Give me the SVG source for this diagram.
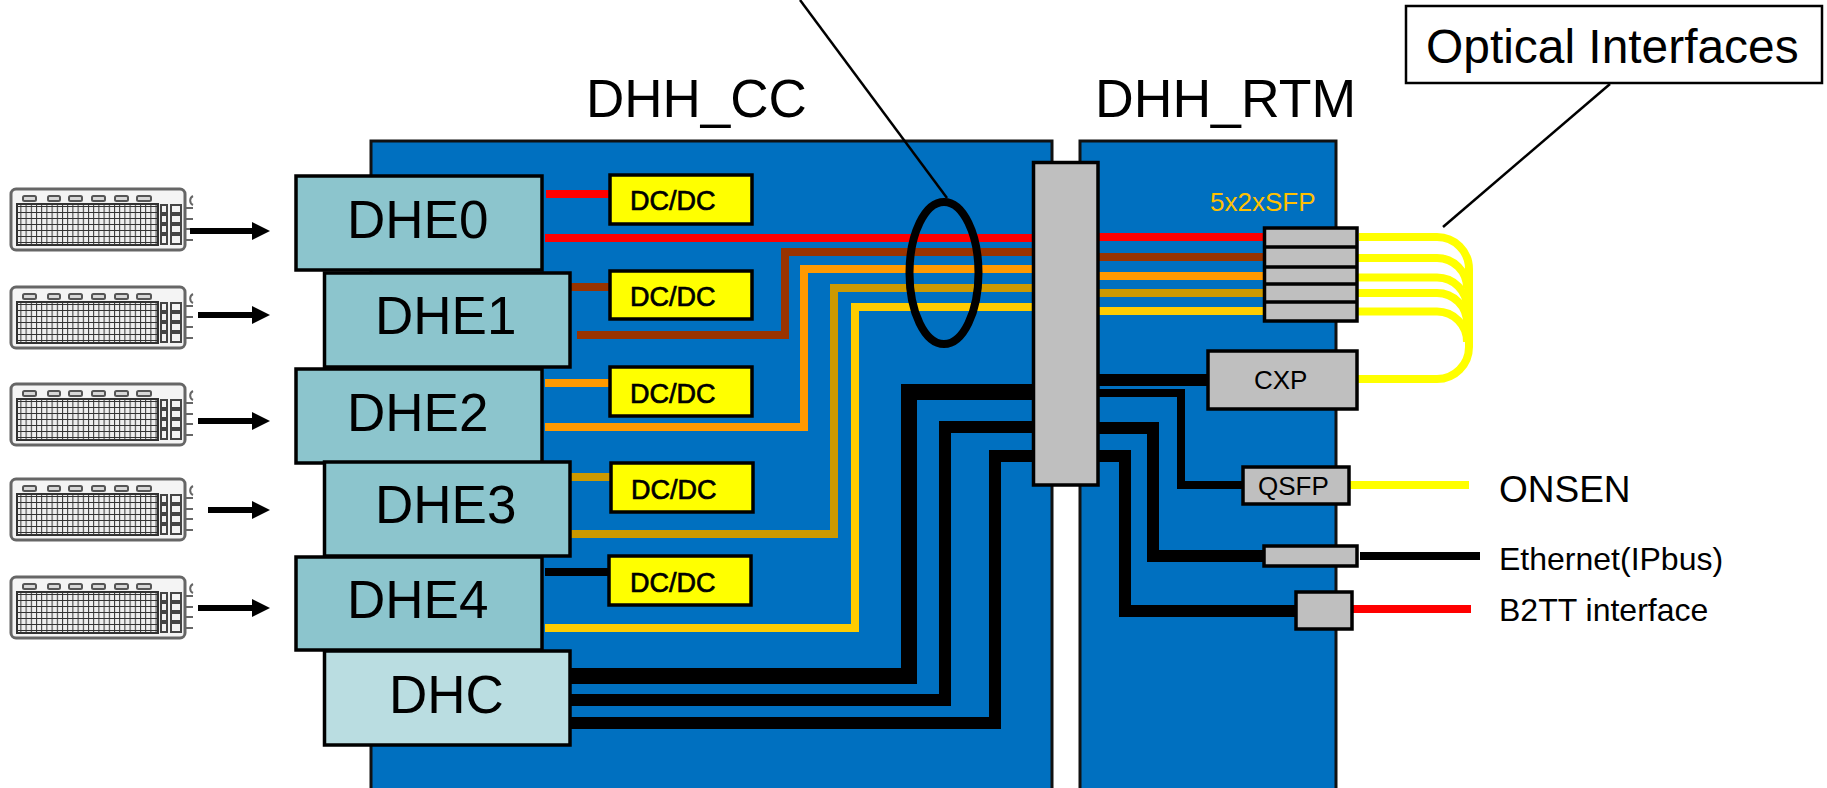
<svg xmlns="http://www.w3.org/2000/svg" width="1827" height="788" viewBox="0 0 1827 788">
<style>
text{font-family:"Liberation Sans",Arial,sans-serif;fill:#000}
.panel{fill:#0070C0;stroke:#111;stroke-width:3}
.dhe{fill:#8CC5CD;stroke:#000;stroke-width:3.500}
.dhc{fill:#BADDE1;stroke:#000;stroke-width:3.500}
.gray{fill:#BFBFBF;stroke:#000;stroke-width:3.500}
.dc{fill:#FF0;stroke:#000;stroke-width:3.500}
.dct{font-size:27px;stroke:#000;stroke-width:.7px}
.big{font-size:53px}
.mid{font-size:26px}
.lbl{font-size:32px}
.w{fill:none;stroke-width:8}
.r{stroke:#F00}.b{stroke:#930}.o{stroke:#F90}.g{stroke:#C90}.a{stroke:#FC0}.y{stroke:#FF0}.k{stroke:#000}
.t{stroke-width:16}.m{stroke-width:12}
.arrow{stroke:#000;stroke-width:6;marker-end:url(#ah)}
</style>
<defs>
<filter id="soft" x="-5%" y="-5%" width="110%" height="110%"><feGaussianBlur stdDeviation="0.500"/></filter>
<marker id="ah" markerUnits="userSpaceOnUse" markerWidth="18" markerHeight="18" refX="0" refY="9" orient="auto"><path d="M0 0L18 9L0 18Z" fill="#000"/></marker>
<pattern id="grid" width="5.200" height="6" patternUnits="userSpaceOnUse"><rect width="5.200" height="6" fill="#eee"/><path d="M0 0V6M0 0H5.200" stroke="#333" stroke-width="2"/></pattern>
<g id="kb" filter="url(#soft)">
<rect x="1" y="1" width="174" height="61" rx="5" fill="#f4f4f4" stroke="#666" stroke-width="3"/>
<g fill="#d8d8d8" stroke="#555" stroke-width="2"><rect x="13" y="8" width="13" height="5" rx="1.500"/><rect x="38" y="8" width="12" height="5" rx="1.500"/><rect x="59" y="8" width="13" height="5" rx="1.500"/><rect x="82" y="8" width="13" height="5" rx="1.500"/><rect x="105" y="8" width="13" height="5" rx="1.500"/><rect x="127" y="8" width="14" height="5" rx="1.500"/></g>
<rect x="7" y="16" width="141" height="41" fill="url(#grid)" stroke="#333" stroke-width="2"/>
<g fill="#f4f4f4" stroke="#444" stroke-width="2"><rect x="151" y="17" width="6" height="8"/><rect x="151" y="27" width="6" height="8"/><rect x="151" y="37" width="6" height="8"/><rect x="151" y="47" width="6" height="9"/><rect x="161" y="17" width="10" height="8"/><rect x="161" y="27" width="10" height="8"/><rect x="161" y="37" width="10" height="8"/><rect x="161" y="47" width="10" height="9"/></g>
<path d="M175 20H183M175 31H183M175 41H183M175 52H183M183 8A5 5 0 0 0 183 17" fill="none" stroke="#666" stroke-width="2"/>
</g>
</defs>
<rect width="1827" height="788" fill="#fff"/>
<g id="keyboards">
<use href="#kb" x="10" y="188"/><use href="#kb" x="10" y="286"/><use href="#kb" x="10" y="383"/><use href="#kb" x="10" y="478"/><use href="#kb" x="10" y="576"/>
</g>
<g id="panel-dhh-cc"><rect class="panel" x="371" y="141" width="681" height="649"/><text class="big" x="586" y="117">DHH_CC</text></g>
<g id="panel-dhh-rtm"><rect class="panel" x="1080" y="141" width="256" height="649"/><text x="1095" y="117" font-size="53.600">DHH_RTM</text></g>
<g id="connectors">
<path class="arrow" d="M190 231H252"/><path class="arrow" d="M198 315H252"/><path class="arrow" d="M198 421H252"/><path class="arrow" d="M208 510H252"/><path class="arrow" d="M198 608H252"/>
<path class="w r" d="M546 194H610M545 238H1033M1098 237H1264"/>
<path class="w b" d="M570 287H610M577 335H785V252H1033M1098 257H1264"/>
<path class="w o" d="M545 383H610M545 427H804V269H1033M1098 276H1264"/>
<path class="w g" d="M570 477H610M570 534H834V288H1033M1098 293H1264"/>
<path class="w a" d="M545 628H855V307H1033M1098 311H1264"/>
<path class="w k" d="M545 572H610"/>
<path class="w k t" d="M571 676H909V392H1033"/>
<path class="w k m" d="M571 700H945V427H1033"/>
<path class="w k m" d="M571 723H995V456H1036"/>
<path class="w k m" d="M1098 380H1208"/>
<path class="w k" d="M1098 393H1181V485H1243"/>
<path class="w k m" d="M1098 428H1153V556H1264"/>
<path class="w k m" d="M1098 456H1125V611H1296"/>
<path class="w y" d="M1359 237H1437A32 32 0 0 1 1469 269V347A32 32 0 0 1 1437 379H1357"/>
<path class="w y" d="M1357 258H1437A30 30 0 0 1 1467 288"/>
<path class="w y" d="M1357 277.500H1437A30 30 0 0 1 1467 308"/>
<path class="w y" d="M1357 293H1437A30 30 0 0 1 1467 323"/>
<path class="w y" d="M1357 311.500H1437A30 30 0 0 1 1467 342"/>
<path class="w y" d="M1349 485H1469"/>
<path class="w k" d="M1360 556H1480"/>
<path class="w r" d="M1352 609H1471"/>
<path d="M800 0L947 198" stroke="#000" stroke-width="2.500" fill="none"/>
<path d="M1610 84L1443 227" stroke="#000" stroke-width="2.500" fill="none"/>
</g>
<ellipse id="bundle-ring" cx="944" cy="273" rx="34.500" ry="71" fill="none" stroke="#000" stroke-width="8"/>
<g id="dhe0"><rect class="dhe" x="296" y="176" width="246" height="94"/><text class="big" x="347" y="238">DHE0</text></g>
<g id="dhe2"><rect class="dhe" x="296" y="369" width="246" height="94"/><text class="big" x="347" y="431">DHE2</text></g>
<g id="dhe4"><rect class="dhe" x="296" y="557" width="246" height="93"/><text class="big" x="347" y="618">DHE4</text></g>
<g id="dhe1"><rect class="dhe" x="324.500" y="273" width="245.500" height="94"/><text class="big" x="375" y="334">DHE1</text></g>
<g id="dhe3"><rect class="dhe" x="324.500" y="462" width="245.500" height="94"/><text class="big" x="375" y="523">DHE3</text></g>
<g id="dhc"><rect class="dhc" x="324.500" y="651" width="245.500" height="94"/><text class="big" x="389" y="713">DHC</text></g>
<g id="dcdc0"><rect class="dc" x="610" y="175" width="142" height="49"/><text class="dct" x="630" y="210">DC/DC</text></g>
<g id="dcdc1"><rect class="dc" x="610" y="271" width="142" height="48"/><text class="dct" x="630" y="306">DC/DC</text></g>
<g id="dcdc2"><rect class="dc" x="610" y="367" width="142" height="49"/><text class="dct" x="630" y="403">DC/DC</text></g>
<g id="dcdc3"><rect class="dc" x="611" y="463" width="142" height="49"/><text class="dct" x="631" y="499">DC/DC</text></g>
<g id="dcdc4"><rect class="dc" x="609" y="556" width="142" height="49"/><text class="dct" x="630" y="592">DC/DC</text></g>
<g id="backplane"><rect class="gray" x="1033.500" y="162.500" width="64.500" height="322.500"/></g>
<g id="sfp"><rect class="gray" x="1264.500" y="228" width="92.500" height="93"/><path d="M1264 247H1357M1264 267H1357M1264 284H1357M1264 302H1357" stroke="#000" stroke-width="3.500"/><text class="mid" x="1210" y="211" style="fill:#FFC000">5x2xSFP</text></g>
<g id="cxp"><rect class="gray" x="1208" y="351" width="149" height="58"/><text class="mid" x="1254" y="389">CXP</text></g>
<g id="qsfp"><rect class="gray" x="1243" y="467" width="106" height="37"/><text class="mid" x="1258" y="495">QSFP</text></g>
<g id="ethernet"><rect class="gray" x="1264" y="546" width="93" height="20"/><text class="lbl" x="1499" y="570">Ethernet(IPbus)</text></g>
<g id="b2tt"><rect class="gray" x="1296" y="592" width="56" height="37"/><text class="lbl" x="1499" y="621">B2TT interface</text></g>
<g id="onsen"><text x="1499" y="502" font-size="37">ONSEN</text></g>
<g id="optical-interfaces"><rect x="1406" y="6" width="416" height="77" fill="#fff" stroke="#000" stroke-width="2.500"/><text x="1426" y="63" font-size="47.900">Optical Interfaces</text></g>
</svg>
